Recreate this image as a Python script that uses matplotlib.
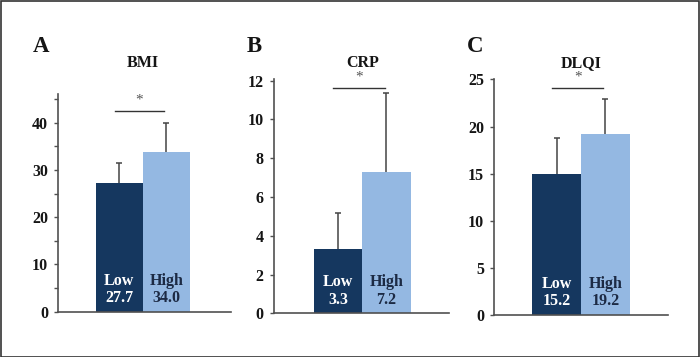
import matplotlib
matplotlib.use("Agg")
import matplotlib.pyplot as plt
from matplotlib.patches import Rectangle

# values
panels = ["A", "B", "C"]
titles = ["BMI", "CRP", "DLQI"]
groups = ["Low", "High"]
bar_low = [27.3, 3.3, 15.0]
bar_high = [33.9, 7.27, 19.2]
err_low = [4.2, 1.85, 3.8]
err_high = [6.1, 4.1, 3.7]
value_labels_low = ["27.7", "3.3", "15.2"]
value_labels_high = ["34.0", "7.2", "19.2"]
sig_level = [42.5, 11.6, 24.05]
y_max = [46, 12.08, 25.05]
y_major = [[0, 10, 20, 30, 40], [0, 2, 4, 6, 8, 10, 12], [0, 5, 10, 15, 20, 25]]
y_minor = [[5, 15, 25, 35, 45], [], []]

W, H = 700, 357
dark = "#15375f"
light = "#94b8e2"
grey = "#505050"
serif = "Liberation Serif"

# axes boxes in pixels: left, top, right, bottom (x-axis line)
boxes = [(58.3, 94.4, 231, 311.7), (274, 79, 448.7, 313.3), (494.3, 79, 667.7, 314.7)]
xlims = [(-1.298, 2.376), (-1.329, 2.288), (-1.281, 2.279)]
letter_pos = [(33, 46), (246.5, 46.7), (466.5, 46.7)]
title_y = [63, 62.7, 63.3]

fig = plt.figure(figsize=(W / 100, H / 100), dpi=100)
fig.patch.set_facecolor("white")
fig.patches.append(Rectangle((0.5 / W, 0.5 / H), 1 - 1.5 / W, 1 - 1.5 / H,
                             transform=fig.transFigure, fill=False,
                             edgecolor="#333333", linewidth=1.2))

for i in range(3):
    l, t, r, b = boxes[i]
    ax = fig.add_axes([l / W, 1 - b / H, (r - l) / W, (b - t) / H])
    ax.set_xlim(*xlims[i])
    ax.set_ylim(0, y_max[i])

    tops = [bar_low[i], bar_high[i]]
    ends = [bar_low[i] + err_low[i], bar_high[i] + err_high[i]]
    ax.bar([0, 1], tops, width=1.0, color=[dark, light], edgecolor="none", zorder=2)
    # upper error bars only
    ax.vlines([0, 1], tops, ends, color="#444444", lw=1.1, zorder=1)
    ax.plot([0, 1], ends, ls="none", marker="_", ms=4.5, mew=1.1,
            color="#444444", zorder=1)

    # significance bracket
    ax.plot([-0.1, 0.96], [sig_level[i], sig_level[i]], color="#333333",
            lw=1.0, clip_on=False)
    ax.annotate("*", xy=(0.43, sig_level[i]), xytext=(0, 8),
                textcoords="offset points", ha="center", va="center",
                fontsize=11, color="#555555", family=serif, annotation_clip=False)

    # labels inside the bars
    for x, name, val, col in [(0, groups[0], value_labels_low[i], "white"),
                              (1, groups[1], value_labels_high[i], "#1c2a44")]:
        ax.annotate(name, xy=(x, 0), xytext=(0, 22.2), textcoords="offset points",
                    ha="center", va="center", fontsize=11.5, fontweight="bold",
                    color=col, family=serif)
        ax.annotate(val, xy=(x, 0), xytext=(0, 9.8), textcoords="offset points",
                    ha="center", va="center", fontsize=11.5, fontweight="bold",
                    color=col, family=serif)

    for s in ["top", "right"]:
        ax.spines[s].set_visible(False)
    for s in ["left", "bottom"]:
        ax.spines[s].set_color(grey)
        ax.spines[s].set_linewidth(1.2)
    ax.set_xticks([])
    ax.set_yticks(y_major[i])
    ax.set_yticks(y_minor[i], minor=True)
    ax.tick_params(axis="y", which="both", direction="out", length=3,
                   width=1.0, color=grey, pad=4.5)
    for lab in ax.get_yticklabels():
        lab.set_fontfamily(serif)
        lab.set_fontweight("bold")
        lab.set_fontsize(11.5)
        lab.set_color("#151515")

    fig.text(letter_pos[i][0] / W, 1 - letter_pos[i][1] / H, panels[i],
             ha="left", va="center", fontsize=16.5, fontweight="bold",
             family=serif, color="#151515")
    cx = (l + (0.5 - xlims[i][0]) / (xlims[i][1] - xlims[i][0]) * (r - l)) / W
    fig.text(cx, 1 - title_y[i] / H, titles[i], ha="center", va="center",
             fontsize=11.5, fontweight="bold", family=serif, color="#151515")

fig.savefig("out.png", dpi=100)
